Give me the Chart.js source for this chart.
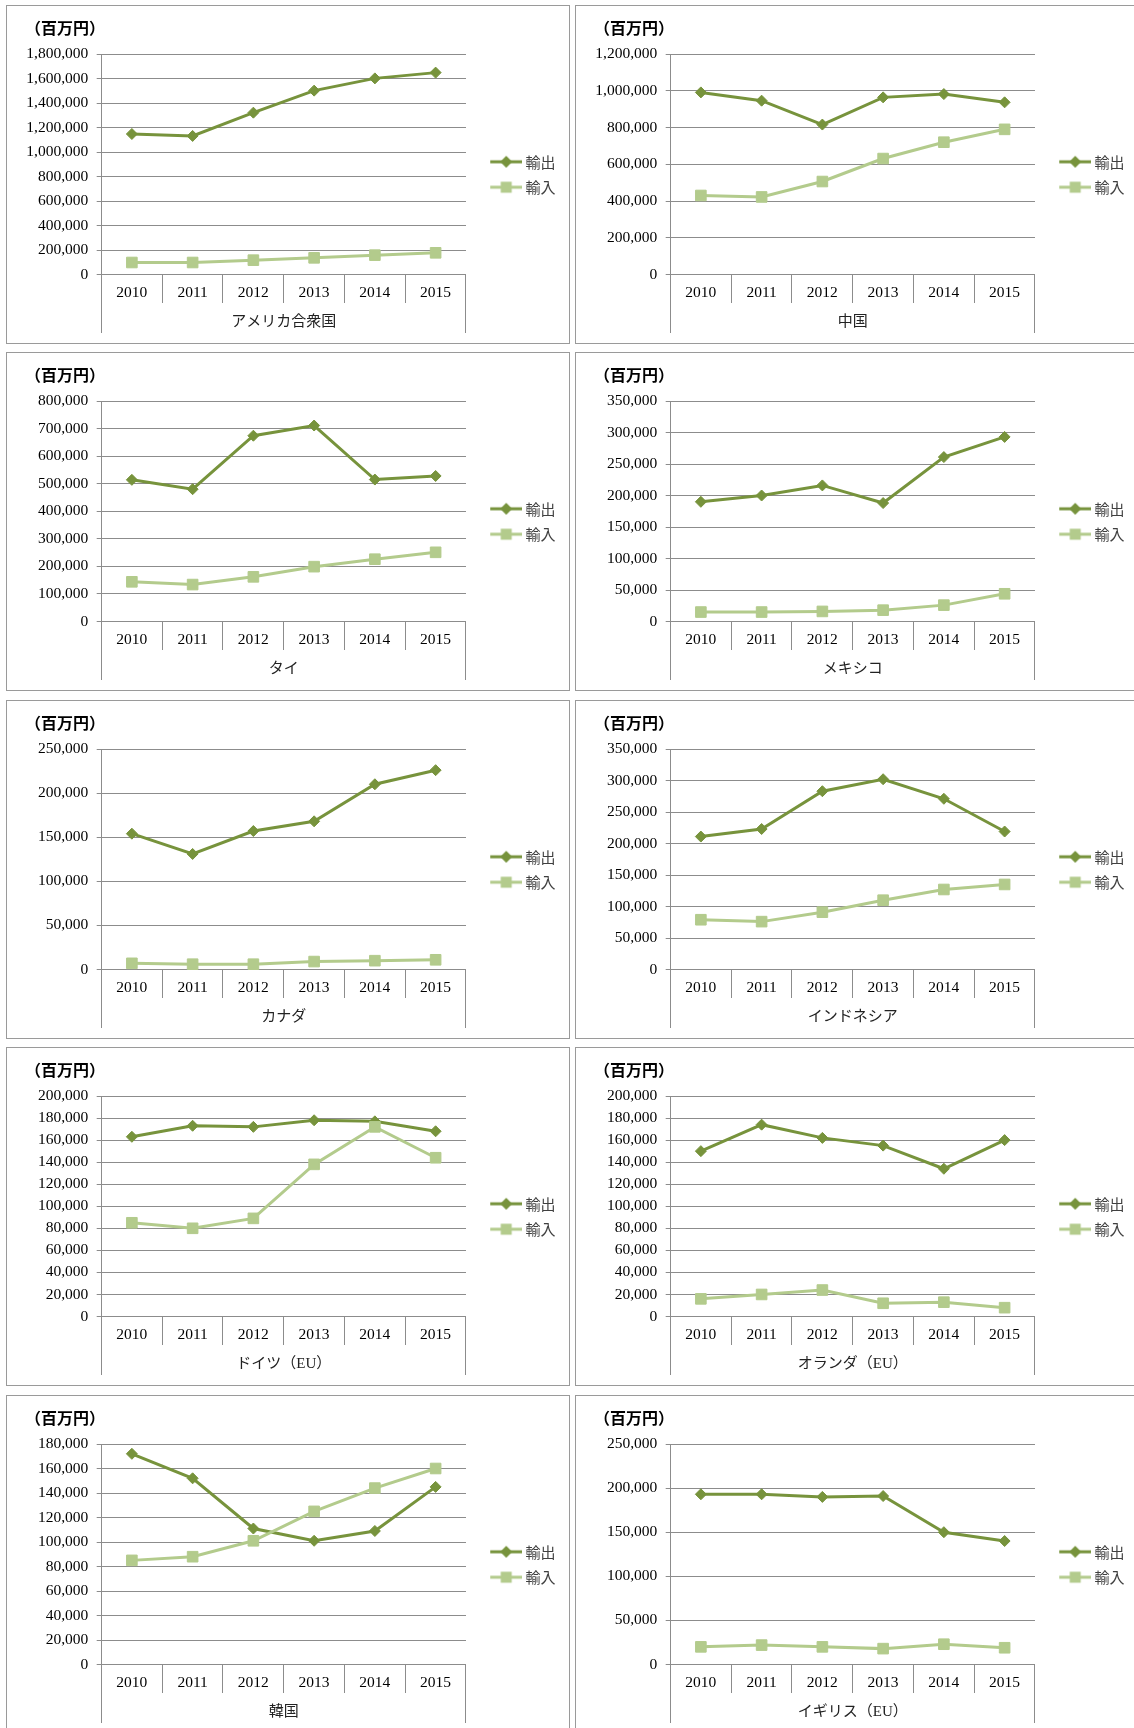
<!DOCTYPE html>
<html lang="ja">
<head>
<meta charset="utf-8">
<title>主要国との輸出入の推移</title>
<script src="https://cdn.jsdelivr.net/npm/chart.js@4.4.1/dist/chart.umd.min.js"></script>
<style>
  html, body { margin: 0; padding: 0; background: #fff; }
  body { width: 1134px; height: 1728px; position: relative; overflow: hidden; }
  .panel { position: absolute; width: 562px; height: 337px; border: 1px solid #9a9a9a; background: #fff; }
  .panel canvas { display: block; }
</style>
</head>
<body>
<script>
// categories
const years = ['2010', '2011', '2012', '2013', '2014', '2015'];
const seriesNames = ['輸出', '輸入'];
const countries = ['アメリカ合衆国', '中国', 'タイ', 'メキシコ', 'カナダ', 'インドネシア',
  'ドイツ（EU）', 'オランダ（EU）', '韓国', 'イギリス（EU）'];

// values (百万円)
const usaExport = [1147000, 1131000, 1321000, 1501000, 1601000, 1648000];
const usaImport = [98000, 98000, 117000, 136000, 158000, 177000];
const chinaExport = [991000, 946000, 816000, 964000, 982000, 937000];
const chinaImport = [430000, 422000, 506000, 631000, 720000, 790000];
const thaiExport = [514000, 480000, 674000, 711000, 515000, 528000];
const thaiImport = [144000, 134000, 162000, 199000, 226000, 251000];
const mexicoExport = [190000, 200000, 216000, 188000, 261000, 293000];
const mexicoImport = [15000, 15000, 16000, 18000, 26000, 44000];
const canadaExport = [154000, 131000, 157000, 168000, 210000, 226000];
const canadaImport = [7000, 6000, 6000, 9000, 10000, 11000];
const indonesiaExport = [211000, 223000, 283000, 302000, 271000, 219000];
const indonesiaImport = [79000, 76000, 91000, 110000, 127000, 135000];
const germanyExport = [163000, 173000, 172000, 178000, 177000, 168000];
const germanyImport = [85000, 80000, 89000, 138000, 172000, 144000];
const netherlandsExport = [150000, 174000, 162000, 155000, 134000, 160000];
const netherlandsImport = [16000, 20000, 24000, 12000, 13000, 8000];
const koreaExport = [172000, 152000, 111000, 101000, 109000, 145000];
const koreaImport = [85000, 88000, 101000, 125000, 144000, 160000];
const ukExport = [193000, 193000, 190000, 191000, 150000, 140000];
const ukImport = [20000, 22000, 20000, 18000, 23000, 19000];

// y axis ticks per chart
const yMax = [1800000, 1200000, 800000, 350000, 250000, 350000, 200000, 200000, 180000, 250000];
const yStep = [200000, 200000, 100000, 50000, 50000, 50000, 20000, 20000, 20000, 50000];

const exportsList = [usaExport, chinaExport, thaiExport, mexicoExport, canadaExport,
  indonesiaExport, germanyExport, netherlandsExport, koreaExport, ukExport];
const importsList = [usaImport, chinaImport, thaiImport, mexicoImport, canadaImport,
  indonesiaImport, germanyImport, netherlandsImport, koreaImport, ukImport];

const EXPORT_COLOR = '#77933c';
const IMPORT_COLOR = '#b3cb8c';
const GRID = '#8c8c8c';
const serif = "'Liberation Serif', 'Noto Sans CJK JP', serif";
const gothic = "'Noto Sans CJK JP', sans-serif";
const rowTops = [5, 352, 700, 1047, 1395];

// legend glyph: short line with the series marker on it
function legendIcon(color, style) {
  const c = document.createElement('canvas');
  c.width = 50; c.height = 16;
  const g = c.getContext('2d');
  g.strokeStyle = color; g.fillStyle = color; g.lineWidth = 3;
  g.beginPath(); g.moveTo(18, 8); g.lineTo(50, 8); g.stroke();
  g.beginPath();
  if (style === 'rectRot') {
    g.moveTo(28, 8); g.lineTo(34, 2); g.lineTo(40, 8); g.lineTo(34, 14); g.closePath();
  } else {
    g.rect(28.5, 2.5, 11, 11);
  }
  g.fill();
  return c;
}

countries.forEach((name, i) => {
  const col = i % 2;
  const row = Math.floor(i / 2);
  const div = document.createElement('div');
  div.className = 'panel';
  div.style.left = (col ? 575 : 6) + 'px';
  div.style.top = rowTops[row] + 'px';
  const canvas = document.createElement('canvas');
  canvas.width = 562; canvas.height = 337;
  div.appendChild(canvas);
  document.body.appendChild(div);

  const padLeft = 18;
  const chartLeft = 94.5;

  new Chart(canvas, {
    type: 'line',
    data: {
      labels: years,
      datasets: [
        {
          label: seriesNames[0], data: exportsList[i],
          borderColor: EXPORT_COLOR, backgroundColor: EXPORT_COLOR,
          borderWidth: 3, pointStyle: 'rectRot', pointRadius: 5.5, pointBorderWidth: 1,
          tension: 0, order: 1, clip: false
        },
        {
          label: seriesNames[1], data: importsList[i],
          borderColor: IMPORT_COLOR, backgroundColor: IMPORT_COLOR,
          borderWidth: 3, pointStyle: 'rect', pointRadius: 7.5, pointBorderWidth: 1,
          tension: 0, order: 0, clip: false
        }
      ]
    },
    options: {
      responsive: false,
      animation: false,
      devicePixelRatio: 1,
      locale: 'en-US',
      events: [],
      layout: { padding: { left: padLeft, right: 3.5, top: 0, bottom: 0 } },
      plugins: {
        tooltip: { enabled: false },
        title: {
          display: true, text: '（百万円）', align: 'start', color: '#000',
          font: { family: gothic, size: 16, weight: 'bold' },
          padding: { top: 12.4, bottom: 16.4 }
        },
        legend: {
          position: 'right', align: 'center',
          labels: {
            usePointStyle: true, pointStyleWidth: 41.6, padding: 10.4,
            color: '#404040', font: { family: gothic, size: 15 },
            generateLabels: chart => chart.data.datasets.map((ds, k) => ({
              text: ds.label, datasetIndex: k, hidden: false,
              pointStyle: legendIcon(ds.borderColor, ds.pointStyle),
              fillStyle: ds.borderColor, strokeStyle: ds.borderColor, lineWidth: 0,
              fontColor: '#404040'
            }))
          }
        }
      },
      scales: {
        x: {
          position: 'bottom', weight: 0, offset: true,
          grid: { offset: true, drawOnChartArea: false, tickLength: 28.5, color: GRID },
          border: { display: false },
          ticks: { color: '#000', padding: -19.3, maxRotation: 0, autoSkip: false,
            font: { family: serif, size: 15.5 } },
          afterFit: s => { s.height = 28; }
        },
        x2: {
          type: 'category', position: 'bottom', weight: 1, labels: [name], offset: true,
          grid: { offset: true, drawOnChartArea: false, tickLength: 30.5, color: GRID },
          border: { display: false },
          ticks: { display: false },
          title: { display: true, text: name, color: '#222',
            font: { family: serif, size: 15 }, padding: { top: 0, bottom: 12 } },
          afterFit: s => { s.height = 40.5; }
        },
        y: {
          min: 0, max: yMax[i],
          ticks: { stepSize: yStep[i], color: '#000', padding: 8.4, autoSkip: false,
            font: { family: serif, size: 15.5 } },
          grid: { color: GRID, tickLength: 4.8 },
          border: { color: GRID },
          afterFit: s => { s.width = chartLeft - padLeft; }
        }
      }
    }
  });
});
</script>
</body>
</html>
